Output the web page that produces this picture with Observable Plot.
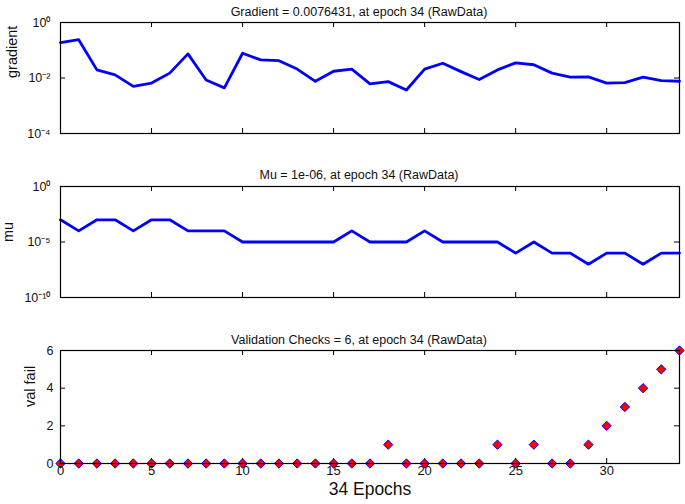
<!DOCTYPE html>
<html><head><meta charset="utf-8">
<script src="https://cdn.jsdelivr.net/npm/d3@7"></script>
<script src="https://cdn.jsdelivr.net/npm/@observablehq/plot@0.6"></script>
<style>
body{margin:0;background:#fff;}
#wrap{position:relative;width:685px;height:504px;overflow:hidden;}
#wrap svg{position:absolute;left:0;}
</style></head><body><div id="wrap"></div>
<script>
const epochs = [0,1,2,3,4,5,6,7,8,9,10,11,12,13,14,15,16,17,18,19,20,21,22,23,24,25,26,27,28,29,30,31,32,33,34];
const gradient = [0.19,0.24,0.0196,0.013,0.005,0.0066,0.015,0.074,0.0085,0.0044,0.078,0.045,0.042,0.021,0.0076,0.0175,0.021,0.0061,0.0074,0.0037,0.021,0.034,0.017,0.0088,0.0196,0.035,0.030,0.015,0.0107,0.011,0.0065,0.0068,0.0107,0.0081,0.0076431];
const mu = [1e-3,1e-4,1e-3,1e-3,1e-4,1e-3,1e-3,1e-4,1e-4,1e-4,1e-5,1e-5,1e-5,1e-5,1e-5,1e-5,1e-4,1e-5,1e-5,1e-5,1e-4,1e-5,1e-5,1e-5,1e-5,1e-6,1e-5,1e-6,1e-6,1e-7,1e-6,1e-6,1e-7,1e-6,1e-6];
const valFail = [0,0,0,0,0,0,0,0,0,0,0,0,0,0,0,0,0,0,1,0,0,0,0,0,1,0,1,0,0,1,2,3,4,5,6];
const xTicks = [0,5,10,15,20,25,30];
const titles = ["Gradient = 0.0076431, at epoch 34 (RawData)","Mu = 1e-06, at epoch 34 (RawData)","Validation Checks = 6, at epoch 34 (RawData)"];
const yLabels = ["gradient","mu","val fail"];
const gradTicks = [1e-4,1e-2,1];
const muTicks = [1e-10,1e-5,1];
const vfTicks = [0,2,4,6];
const xLabel = "34 Epochs";

const sup = {"0":"⁰","1":"¹","2":"²","3":"³","4":"⁴","5":"⁵","6":"⁶","7":"⁷","8":"⁸","9":"⁹","-":"⁻"};
const logFmt = d => "10" + String(Math.round(Math.log10(d))).split("").map(c => sup[c]).join("");

const W = 685, ML = 60, MR = 6;
const PW = W - ML - MR;
const font = "Liberation Sans, Arial, Helvetica, sans-serif";
const wrap = document.getElementById("wrap");

function panel(o) {
  const ph = o.height - o.mt - o.mb;
  const rows = epochs.map((e, i) => ({e, v: o.values[i]}));
  const marks = [
    Plot.tickX(xTicks, {x: d => d, insetTop: ph - 5, stroke: "black"}),
    Plot.tickX(xTicks, {x: d => d, insetBottom: ph - 5, stroke: "black"}),
    Plot.tickY(o.yTicks, {y: d => d, insetRight: PW - 5, stroke: "black"}),
    Plot.tickY(o.yTicks, {y: d => d, insetLeft: PW - 5, stroke: "black"}),
    Plot.axisY({ticks: o.yTicks, tickSize: 0, tickPadding: o.yPad, tickFormat: o.yFmt, fontSize: 12.5, label: null}),
    Plot.text([o.title], {frameAnchor: "top", dx: -11, dy: o.titleDy, fontSize: 12.5, fill: "#111"}),
    Plot.text([o.ylab], {frameAnchor: "left", dx: o.ylabDx, rotate: -90, fontSize: 14.5, fill: "#111"}),
  ];
  if (o.dots) {
    marks.push(Plot.dot(rows, {x: "e", y: "v", symbol: "diamond2", r: 4.2, fill: "#ff0000", stroke: "#0000ff", strokeWidth: 1}));
  } else {
    marks.push(Plot.line(rows, {x: "e", y: "v", stroke: "#0000ff", strokeWidth: 2.8}));
  }
  if (o.showX) {
    marks.push(Plot.axisX({ticks: xTicks, tickSize: 0, tickPadding: 2, fontSize: 13, label: null}));
    marks.push(Plot.text([xLabel], {frameAnchor: "bottom", dy: 31, fontSize: 17.5, fill: "#111"}));
  }
  marks.push(Plot.frame({stroke: "black", strokeWidth: 1.2}));
  const svg = Plot.plot({
    width: W, height: o.height,
    marginLeft: ML, marginRight: MR, marginTop: o.mt, marginBottom: o.mb,
    style: {fontFamily: font, background: "transparent", color: "#111", overflow: "visible"},
    x: {domain: [0, 34], axis: null},
    y: {type: o.yType, domain: o.yDomain, axis: null},
    marks
  });
  svg.style.top = o.top + "px";
  wrap.appendChild(svg);
}

panel({top: 0, height: 150, mt: 22, mb: 17, values: gradient, yType: "log", yDomain: [1e-4, 1], yTicks: gradTicks, yFmt: logFmt, yPad: 10, title: titles[0], titleDy: -15, ylab: yLabels[0], ylabDx: -48});
panel({top: 150, height: 165, mt: 36, mb: 18, values: mu, yType: "log", yDomain: [1e-10, 1], yTicks: muTicks, yFmt: logFmt, yPad: 10, title: titles[1], titleDy: -16, ylab: yLabels[1], ylabDx: -52});
panel({top: 315, height: 189, mt: 35, mb: 41, values: valFail, yType: "linear", yDomain: [0, 6], yTicks: vfTicks, yFmt: d => String(d), yPad: 7, title: titles[2], titleDy: -15, ylab: yLabels[2], ylabDx: -30, dots: true, showX: true});
</script></body></html>
